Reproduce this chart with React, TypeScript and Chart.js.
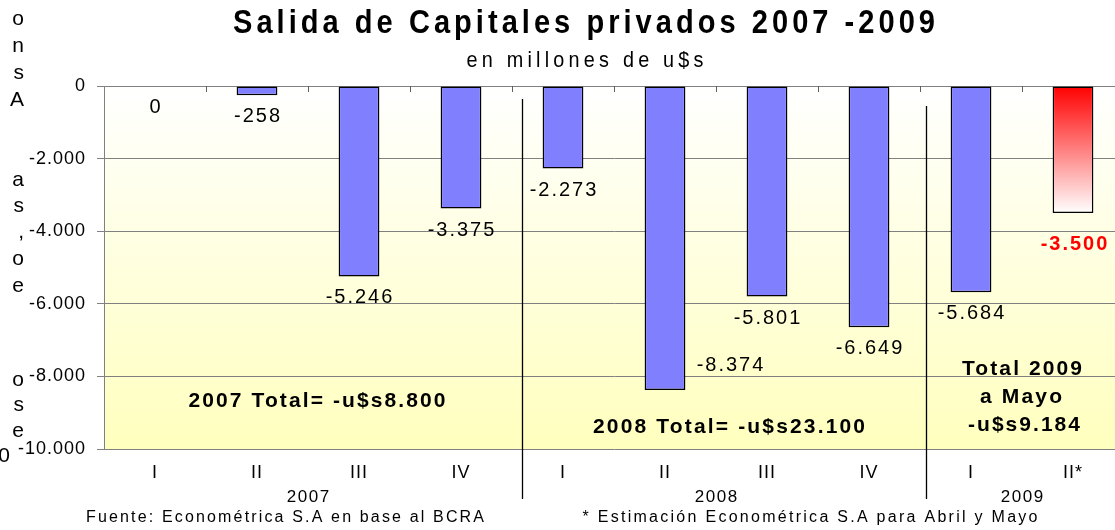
import React, { useEffect, useRef } from 'react';
import { Chart, registerables } from 'chart.js';

Chart.register(...registerables);

// ---------- data ----------
const quarters = ['I', 'II', 'III', 'IV', 'I', 'II', 'III', 'IV', 'I', 'II*'];
const years = ['2007', '2008', '2009'];
const yearFirstIndex = [0, 4, 8];
const yearLastIndex = [3, 7, 9];
const values = [0, -258, -5246, -3375, -2273, -8374, -5801, -6649, -5684, -3500];
const estimatedIndex = 9;
const yMin = -10000;
const yMax = 0;
const yStep = 2000;

const titleText = 'Salida de Capitales privados 2007 -2009';
const subtitleText = 'en millones de u$s';
const total2007 = '2007 Total= -u$s8.800';
const total2008 = '2008 Total= -u$s23.100';
const total2009Lines = ['Total 2009', 'a Mayo', '-u$s9.184'];
const sourceText = 'Fuente: Econométrica S.A en base al BCRA';
const noteText = '* Estimación Econométrica S.A para Abril y Mayo';
// cropped ends of a text block that sits left of the chart in the original slide
const sideFragments = ['o', 'n', 's', 'A', 'a', 's', ',', 'o', 'e', 'o', 's', 'e', '0'];

// ---------- layout / style ----------
const FONT = "'Liberation Sans', Arial, Helvetica, sans-serif";
const fragY = [19, 46, 73, 100, 180, 206, 232, 259, 286, 380, 405, 431, 456];
const fragRight = [24, 24, 24, 24, 24, 24, 24, 24, 24, 24, 24, 24, 10];

function fmt(v: number): string {
  const s = Math.round(Math.abs(v)).toString().replace(/\B(?=(\d{3})+(?!\d))/g, '.');
  return (v < 0 ? '-' : '') + s;
}

function drawText(
  ctx: CanvasRenderingContext2D,
  text: string,
  x: number,
  y: number,
  font: string,
  opts: { width?: number; spacing?: number; align?: 'left' | 'center' | 'right'; color?: string; hscale?: number } = {}
) {
  ctx.save();
  ctx.font = font;
  (ctx as any).letterSpacing = '0px';
  const hs = opts.hscale ?? 1;
  const natural = ctx.measureText(text).width * hs;
  let sp = opts.spacing ?? 0;
  if (opts.width != null && text.length > 1) sp = (opts.width - natural) / (text.length - 1);
  const total = natural + sp * (text.length - 1);
  (ctx as any).letterSpacing = sp / hs + 'px';
  ctx.textAlign = 'left';
  ctx.textBaseline = 'middle';
  ctx.fillStyle = opts.color ?? '#000';
  const align = opts.align ?? 'center';
  let left = x;
  if (align === 'center') left = x - total / 2;
  else if (align === 'right') left = x - total;
  ctx.translate(left, y);
  ctx.scale(hs, 1);
  ctx.fillText(text, 0, 0);
  ctx.restore();
}

const decorPlugin = {
  id: 'decor',
  beforeDraw(chart: any) {
    const { ctx, chartArea } = chart;
    if (!chartArea) return;
    ctx.save();
    const g = ctx.createLinearGradient(0, chartArea.top, 0, chartArea.bottom);
    g.addColorStop(0, '#FFFFFF');
    g.addColorStop(1, '#FFFFBE');
    ctx.fillStyle = g;
    ctx.fillRect(chartArea.left, chartArea.top, chartArea.right - chartArea.left, chartArea.bottom - chartArea.top);
    ctx.restore();
    (ctx as any).letterSpacing = '1px';
  },
  afterDraw(chart: any) {
    const { ctx, chartArea } = chart;
    const xs = chart.scales.x;
    const ys = chart.scales.y;
    (ctx as any).letterSpacing = '0px';

    // small category tick marks on the zero line
    ctx.save();
    ctx.strokeStyle = '#606060';
    ctx.lineWidth = 1;
    for (let i = 1; i < quarters.length; i++) {
      const bx = Math.round((xs.getPixelForValue(i - 1) + xs.getPixelForValue(i)) / 2) + 0.5;
      ctx.beginPath();
      ctx.moveTo(bx, chartArea.top);
      ctx.lineTo(bx, chartArea.top + 6);
      ctx.stroke();
    }
    ctx.restore();

    // year separators
    ctx.save();
    ctx.strokeStyle = '#000';
    ctx.lineWidth = 1.3;
    ctx.beginPath();
    ctx.moveTo(522.5, 99);
    ctx.lineTo(522.5, 499);
    ctx.moveTo(926.5, 106);
    ctx.lineTo(926.5, 499);
    ctx.stroke();
    ctx.restore();

    // titles
    drawText(ctx, titleText, 584, 24, `bold 33px ${FONT}`, { width: 702, hscale: 0.88 });
    drawText(ctx, subtitleText, 585, 61, `22px ${FONT}`, { width: 237, hscale: 0.9 });

    // data labels
    values.forEach((v, i) => {
      const cx = xs.getPixelForValue(i);
      const end = ys.getPixelForValue(v);
      if (i === estimatedIndex) {
        drawText(ctx, fmt(v), cx + 1, end + 31, `bold 20px ${FONT}`, { spacing: 2, color: '#FF0000' });
      } else if (v === Math.min(...values)) {
        drawText(ctx, fmt(v), cx + 65, end - 24, `20px ${FONT}`, { spacing: 2 });
      } else {
        drawText(ctx, fmt(v), cx, end + 21.5, `20px ${FONT}`, { spacing: 2 });
      }
    });

    // totals
    drawText(ctx, total2007, 317, 401, `bold 21px ${FONT}`, { width: 257 });
    drawText(ctx, total2008, 729, 427, `bold 21px ${FONT}`, { width: 272 });
    drawText(ctx, total2009Lines[0], 1022, 369, `bold 21px ${FONT}`, { width: 120 });
    drawText(ctx, total2009Lines[1], 1021, 397, `bold 21px ${FONT}`, { width: 82 });
    drawText(ctx, total2009Lines[2], 1024, 425, `bold 21px ${FONT}`, { width: 112 });

    // year labels centred under their quarters
    years.forEach((yr, k) => {
      const cx = (xs.getPixelForValue(yearFirstIndex[k]) + xs.getPixelForValue(yearLastIndex[k])) / 2;
      drawText(ctx, yr, cx, 497, `17px ${FONT}`, { spacing: 1.5 });
    });

    // footers
    drawText(ctx, sourceText, 285, 518, `16px ${FONT}`, { width: 398 });
    drawText(ctx, noteText, 810, 518, `16px ${FONT}`, { width: 455 });

    // cropped side text
    sideFragments.forEach((t, i) => {
      drawText(ctx, t, fragRight[i], fragY[i], `21px ${FONT}`, { align: 'right' });
    });
  },
};

export default function App() {
  const ref = useRef<HTMLCanvasElement | null>(null);

  useEffect(() => {
    if (!ref.current) return;
    const chart = new Chart(ref.current, {
      type: 'bar',
      data: {
        labels: quarters,
        datasets: [
          {
            data: values,
            backgroundColor: (c: any) => {
              if (c.dataIndex !== estimatedIndex) return '#8080FF';
              const ch = c.chart;
              if (!ch.chartArea) return '#FF0000';
              const ys = ch.scales.y;
              const g = ch.ctx.createLinearGradient(0, ys.getPixelForValue(0), 0, ys.getPixelForValue(values[estimatedIndex]));
              g.addColorStop(0, '#FF0000');
              g.addColorStop(1, '#FFFFFF');
              return g;
            },
            borderColor: '#000000',
            borderWidth: (c: any) => (values[c.dataIndex] === 0 ? 0 : 1.5),
            borderSkipped: false,
            barPercentage: 0.4,
            categoryPercentage: 1,
          },
        ],
      },
      options: {
        animation: false,
        responsive: false,
        events: [],
        layout: { padding: { left: 0, top: 86, right: 6, bottom: 0 } },
        plugins: {
          legend: { display: false },
          title: { display: false },
          tooltip: { enabled: false },
        },
        scales: {
          x: {
            type: 'category',
            offset: true,
            grid: { display: false, drawTicks: false },
            border: { display: false },
            ticks: {
              color: '#000',
              font: { family: FONT, size: 18 },
              padding: 13,
              maxRotation: 0,
              autoSkip: false,
            },
            afterFit: (s: any) => {
              s.height = 81;
            },
          },
          y: {
            min: yMin,
            max: yMax,
            ticks: {
              stepSize: yStep,
              color: '#000',
              font: { family: FONT, size: 18 },
              padding: 11,
              callback: (v: any) => fmt(Number(v)),
            },
            grid: { color: '#808080', lineWidth: 1, tickLength: 7, tickColor: '#808080' },
            border: { color: '#808080', width: 1 },
            afterFit: (s: any) => {
              s.width = 104;
            },
          },
        },
      },
      plugins: [decorPlugin],
    });
    return () => chart.destroy();
  }, []);

  return (
    <div style={{ position: 'fixed', left: 0, top: 0, width: 1115, height: 530, overflow: 'hidden', background: '#fff' }}>
      <canvas ref={ref} width={1130} height={530} style={{ display: 'block', width: 1130, height: 530 }} />
    </div>
  );
}
